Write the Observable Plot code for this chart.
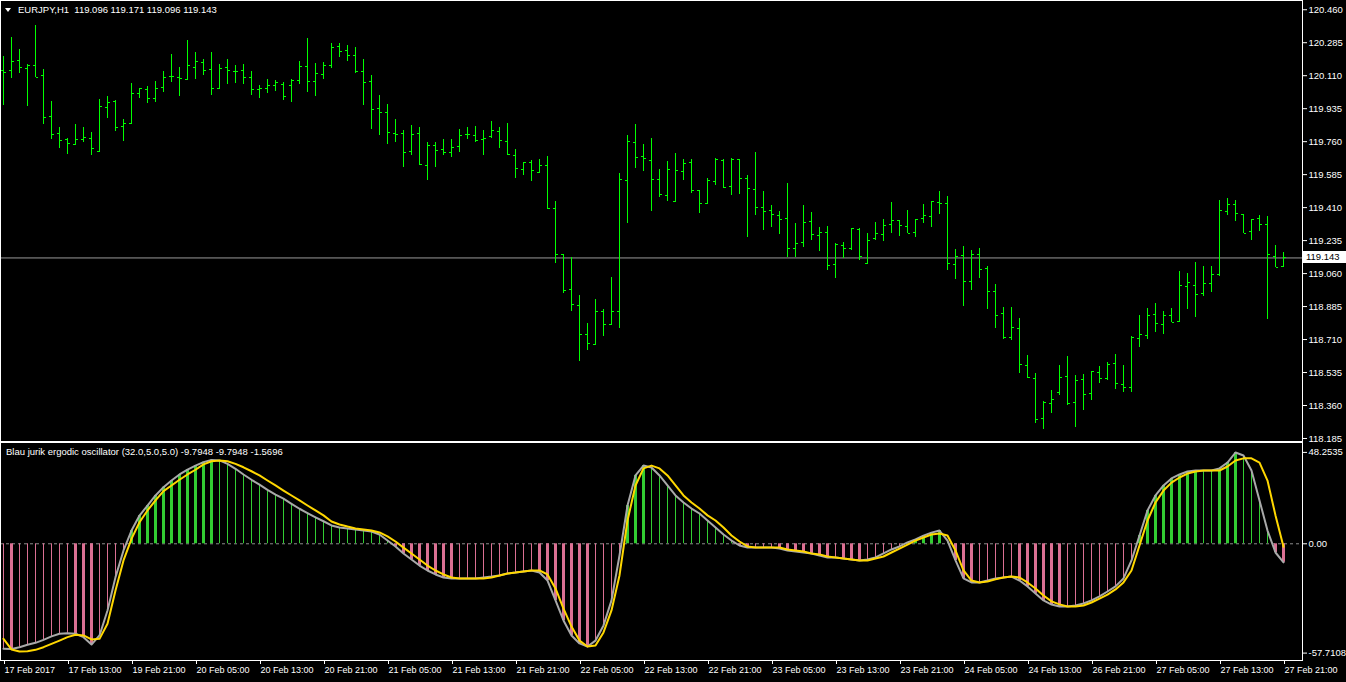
<!DOCTYPE html>
<html><head><meta charset="utf-8">
<script src="https://cdn.jsdelivr.net/npm/d3@7"></script>
<script src="https://cdn.jsdelivr.net/npm/@observablehq/plot@0.6"></script>
<style>
html,body{margin:0;padding:0;background:#000;overflow:hidden}
#wrap{position:relative;width:1346px;height:682px;background:#000;font-family:"Liberation Sans",Arial,sans-serif;overflow:hidden}
#price{position:absolute;left:0;top:0;z-index:2}
#osc{position:absolute;left:0;top:442px;z-index:1}
#wrap svg{display:block;overflow:visible}
.lbl{position:absolute;color:#fff;font-size:9.5px;white-space:pre;line-height:11px;z-index:3}
</style></head><body><div id="wrap"><div id="price"></div><div id="osc"></div></div>
<script>
const symbolTitle = "EURJPY,H1  119.096 119.171 119.096 119.143";
const oscTitle = "Blau jurik ergodic oscillator (32.0,5.0,5.0) -9.7948 -9.7948 -1.5696";
const priceTicks = [120.460,120.285,120.110,119.935,119.760,119.585,119.410,119.235,119.060,118.885,118.710,118.535,118.360,118.185];
const lastPrice = 119.143;
const oscTickValues = [48.2535, 0, -57.7108];
const oscTickLabels = ["48.2535", "0.00", "-57.7108"];
const timeLabels = ["17 Feb 2017","17 Feb 13:00","19 Feb 21:00","20 Feb 05:00","20 Feb 13:00","20 Feb 21:00","21 Feb 05:00","21 Feb 13:00","21 Feb 21:00","22 Feb 05:00","22 Feb 13:00","22 Feb 21:00","23 Feb 05:00","23 Feb 13:00","23 Feb 21:00","24 Feb 05:00","24 Feb 13:00","26 Feb 21:00","27 Feb 05:00","27 Feb 13:00","27 Feb 21:00"];
const timeLabelBars = [0,8,16,24,32,40,48,56,64,72,80,88,96,104,112,120,128,136,144,152,160];

const open = [
120.138,120.138,120.191,120.147,120.164,120.111,119.894,119.802,119.772,119.746,
119.772,119.777,119.707,119.942,119.974,119.841,119.855,120.016,120.037,119.988,
120.046,120.104,120.099,120.088,120.152,120.180,120.143,120.041,120.152,120.133,
120.138,120.101,120.037,120.042,120.057,120.064,120.058,120.085,120.159,120.080,
120.117,120.164,120.265,120.244,120.217,120.133,120.080,119.936,119.915,119.802,
119.802,119.708,119.802,119.634,119.740,119.719,119.701,119.735,119.797,119.793,
119.772,119.786,119.815,119.761,119.687,119.613,119.650,119.599,119.634,119.404,
119.161,118.977,118.890,118.738,118.685,118.860,118.791,118.860,119.555,119.756,
119.682,119.659,119.558,119.473,119.441,119.601,119.648,119.500,119.431,119.548,
119.659,119.521,119.664,119.564,119.505,119.410,119.394,119.367,119.351,119.192,
119.224,119.336,119.261,119.277,119.108,119.208,119.192,119.293,119.113,119.245,
119.267,119.320,119.341,119.309,119.277,119.351,119.362,119.436,119.431,119.108,
119.155,119.017,119.161,119.086,118.964,118.848,118.720,118.768,118.572,118.503,
118.293,118.371,118.429,118.514,118.376,118.498,118.424,118.535,118.503,118.583,
118.471,118.455,118.715,118.731,118.842,118.789,118.837,118.805,118.991,118.996,
118.954,119.007,119.054,119.389,119.426,119.373,119.282,119.351,119.320,119.150,
119.096];
const high = [
120.214,120.315,120.249,120.170,120.376,120.143,119.975,119.837,119.779,119.852,
119.837,119.811,119.984,120.000,119.979,119.878,120.071,120.044,120.053,120.080,
120.133,120.225,120.154,120.297,120.235,120.196,120.233,120.171,120.196,120.164,
120.171,120.134,120.058,120.092,120.085,120.076,120.092,120.187,120.309,120.177,
120.182,120.283,120.283,120.270,120.262,120.196,120.111,120.005,119.958,119.878,
119.820,119.846,119.836,119.756,119.756,119.772,119.772,119.825,119.836,119.841,
119.820,119.868,119.836,119.857,119.719,119.650,119.661,119.666,119.682,119.443,
119.161,119.145,118.945,118.796,118.924,118.871,119.040,119.592,119.793,119.852,
119.746,119.777,119.613,119.655,119.698,119.666,119.666,119.500,119.565,119.671,
119.666,119.671,119.664,119.581,119.703,119.496,119.422,119.390,119.539,119.327,
119.422,119.385,119.305,119.311,119.221,119.226,119.300,119.300,119.274,119.332,
119.348,119.438,119.343,119.396,119.348,119.427,119.443,119.496,119.470,119.189,
119.205,119.184,119.194,119.099,119.003,118.881,118.881,118.823,118.627,118.531,
118.383,118.441,118.574,118.622,118.521,118.526,118.542,118.568,118.590,118.632,
118.574,118.728,118.839,118.876,118.903,118.860,118.876,119.072,119.062,119.120,
119.099,119.099,119.449,119.459,119.449,119.374,119.348,119.369,119.364,119.210,
119.171];
const low = [
119.952,120.097,120.124,119.949,120.099,119.853,119.770,119.726,119.694,119.742,
119.758,119.684,119.705,119.885,119.816,119.763,119.855,119.991,119.961,119.970,
120.023,120.076,120.002,120.088,120.092,120.113,120.007,120.041,120.065,120.071,
120.065,120.007,119.991,120.014,120.028,119.981,119.970,120.062,120.020,119.997,
120.092,120.150,120.209,120.187,120.120,119.954,119.827,119.795,119.747,119.758,
119.625,119.689,119.631,119.556,119.625,119.689,119.678,119.705,119.769,119.753,
119.684,119.779,119.726,119.689,119.562,119.583,119.551,119.594,119.399,119.111,
118.952,118.857,118.591,118.650,118.676,118.724,118.782,118.766,119.328,119.620,
119.604,119.387,119.466,119.440,119.440,119.556,119.487,119.381,119.424,119.530,
119.509,119.472,119.482,119.254,119.366,119.291,119.302,119.265,119.145,119.145,
119.196,119.238,119.175,119.079,119.032,119.138,119.180,119.127,119.106,119.233,
119.228,119.275,119.259,119.272,119.254,119.328,119.307,119.371,119.079,119.026,
118.883,118.968,119.032,118.872,118.766,118.708,118.703,118.528,118.501,118.263,
118.231,118.316,118.411,118.358,118.242,118.332,118.385,118.475,118.491,118.443,
118.427,118.427,118.666,118.708,118.745,118.735,118.798,118.805,118.867,118.825,
118.941,118.957,119.047,119.366,119.334,119.272,119.238,119.281,118.819,119.092,
119.096];
const close = [
120.129,120.186,120.152,120.164,120.103,119.887,119.799,119.767,119.749,119.772,
119.783,119.724,119.947,119.968,119.834,119.857,120.016,120.041,119.988,120.042,
120.101,120.104,120.094,120.164,120.186,120.136,120.041,120.149,120.138,120.133,
120.101,120.037,120.042,120.057,120.074,119.998,120.085,120.157,120.080,120.122,
120.166,120.260,120.239,120.217,120.133,120.074,119.931,119.915,119.807,119.799,
119.701,119.799,119.640,119.740,119.714,119.701,119.730,119.793,119.797,119.767,
119.777,119.820,119.767,119.691,119.618,119.650,119.608,119.634,119.404,119.161,
118.970,118.895,118.738,118.690,118.860,118.791,118.860,119.558,119.761,119.677,
119.671,119.558,119.479,119.611,119.606,119.643,119.500,119.431,119.553,119.666,
119.516,119.664,119.564,119.510,119.410,119.389,119.373,119.346,119.192,119.219,
119.330,119.267,119.277,119.102,119.213,119.192,119.298,119.150,119.235,119.272,
119.314,119.341,119.314,119.272,119.346,119.367,119.441,119.431,119.113,119.150,
119.017,119.161,119.081,118.964,118.837,118.720,118.774,118.577,118.508,118.287,
118.376,118.392,118.508,118.371,118.492,118.418,118.540,118.503,118.577,118.477,
118.455,118.720,118.736,118.837,118.795,118.837,118.800,118.996,119.012,118.948,
119.007,119.054,119.394,119.427,119.378,119.272,119.346,119.320,119.161,119.092,
119.143];
const ergodic = [
-55.4,-55.5,-54.6,-53.3,-52.3,-50.7,-48.9,-47.5,-47.2,-47.5,
-49.3,-53.2,-48.4,-35.2,-17.6,-3.5,7.0,14.9,20.2,25.5,
29.9,33.4,36.6,39.2,41.3,43.1,44.3,44.0,42.2,39.6,
36.6,33.8,31.2,28.5,26.0,23.8,21.1,18.5,16.2,14.0,
11.9,9.7,8.6,8.1,7.6,7.0,6.5,4.9,1.7,-1.4,
-5.1,-8.3,-11.5,-14.1,-16.2,-17.8,-18.3,-18.3,-18.3,-18.3,
-17.8,-17.3,-16.7,-15.7,-15.2,-14.6,-14.1,-15.2,-19.4,-29.9,
-40.5,-48.4,-52.6,-54.2,-51.1,-43.1,-29.9,-6.2,20.2,36.1,
41.3,40.3,36.1,30.8,25.5,21.8,18.6,16.0,12.3,8.6,
4.9,1.7,-0.9,-2.0,-2.0,-2.0,-2.0,-2.5,-3.5,-4.1,
-4.6,-5.1,-6.2,-7.2,-7.2,-7.8,-8.3,-8.8,-8.3,-7.2,
-5.1,-3.0,-1.4,0.7,2.3,4.3,5.9,7.0,1.7,-8.8,
-18.3,-20.4,-20.4,-19.4,-18.3,-17.8,-17.3,-19.4,-22.5,-26.2,
-29.9,-32.1,-33.1,-33.1,-32.6,-31.5,-29.9,-27.8,-25.2,-22.5,
-18.3,-8.8,4.4,17.6,25.5,30.8,34.5,36.6,38.2,38.7,
38.7,38.7,39.8,42.9,48.2,46.6,38.7,22.9,7.0,-4.6,
-9.7948];
const signal = [
-50.2,-55.8,-56.9,-56.7,-56.0,-54.6,-52.8,-51.1,-49.3,-48.0,
-48.4,-50.5,-50.2,-42.2,-24.7,-8.8,2.6,11.4,17.6,22.9,
27.8,30.8,33.8,36.6,39.1,41.9,43.6,44.0,43.6,42.2,
40.4,38.3,36.1,33.4,30.8,28.1,25.5,22.9,20.2,17.6,
15.0,11.8,10.2,9.1,8.1,7.6,7.0,6.0,3.9,1.2,
-2.0,-5.1,-8.3,-11.5,-14.1,-16.2,-17.8,-18.3,-18.3,-18.3,
-18.3,-17.8,-16.7,-15.7,-15.2,-14.6,-14.1,-14.1,-16.2,-23.6,
-34.2,-43.7,-51.1,-54.2,-53.7,-46.8,-35.2,-16.7,12.3,30.8,
39.8,41.3,39.8,36.1,30.8,25.5,21.8,18.6,15.0,12.3,
8.6,4.4,1.2,-1.4,-2.0,-2.0,-2.0,-2.0,-3.0,-3.5,
-4.1,-5.1,-5.6,-6.7,-7.2,-7.8,-8.3,-8.8,-8.8,-7.8,
-6.7,-4.6,-2.5,-0.4,1.7,3.3,4.9,5.4,4.4,-3.5,
-14.1,-19.4,-20.4,-19.9,-18.8,-17.8,-17.3,-17.8,-20.4,-23.6,
-27.3,-30.4,-32.0,-33.1,-33.1,-32.6,-31.0,-28.9,-26.8,-24.1,
-20.4,-14.1,-0.9,12.3,21.8,28.1,32.3,35.0,37.1,38.2,
38.7,38.7,38.7,40.8,44.0,45.1,45.1,42.9,33.4,15.0,
-1.5696];

const FONT = "'Liberation Sans', Arial, sans-serif";
const bars = open.map((o, i) => ({i, open: o, high: high[i], low: low[i], close: close[i]}));
const osc = ergodic.map((v, i) => {
  const prev = i > 0 ? ergodic[i - 1] : v;
  const thick = (v > 0 && v > prev) || (v < 0 && v < prev);
  return {i, erg: v, sig: signal[i], thick, pos: v >= 0};
});
const xDomain = [-0.375, 162.375];
const GREEN = "#00ff00";

const priceChart = Plot.plot({
  width: 1346, height: 442, marginTop: 0, marginBottom: 1, marginLeft: 0, marginRight: 44,
  style: {background: "transparent", color: "#fff", fontFamily: FONT, fontSize: "9.5px", overflow: "visible"},
  x: {domain: xDomain, axis: null, label: null},
  y: {domain: [118.169, 120.509], axis: null, label: null},
  marks: [
    Plot.ruleY([lastPrice], {stroke: "#9a9a9a"}),
    Plot.ruleX(bars, {x: "i", y1: "low", y2: "high", stroke: GREEN, shapeRendering: "crispEdges"}),
    Plot.link(bars, {x1: d => d.i - 0.32, x2: "i", y1: "open", y2: "open", stroke: GREEN, shapeRendering: "crispEdges"}),
    Plot.link(bars, {x1: "i", x2: d => d.i + 0.32, y1: "close", y2: "close", stroke: GREEN, shapeRendering: "crispEdges"}),
    Plot.axisY(priceTicks, {anchor: "right", label: null, tickSize: 4, tickPadding: 2, tickFormat: d => d.toFixed(3)}),
    Plot.frame({stroke: "#fff"})
  ]
});
document.getElementById("price").appendChild(priceChart);

const labelMap = new Map(timeLabelBars.map((b, k) => [b, timeLabels[k]]));
const oscMap = new Map(oscTickValues.map((v, k) => [v, oscTickLabels[k]]));
const oscChart = Plot.plot({
  width: 1346, height: 240, marginTop: 0, marginBottom: 22, marginLeft: 0, marginRight: 44,
  style: {background: "transparent", color: "#fff", fontFamily: FONT, fontSize: "9.5px", overflow: "visible"},
  x: {domain: xDomain, axis: null, label: null},
  y: {domain: [-61.62, 53.48], axis: null, label: null},
  marks: [
    Plot.ruleY([0], {stroke: "#8c8c8c", strokeDasharray: "3,3"}),
    Plot.ruleX(osc.filter(d => d.pos && d.thick), {x: "i", y1: 0, y2: "erg", stroke: "#32cd32", strokeWidth: 3}),
    Plot.ruleX(osc.filter(d => d.pos && !d.thick), {x: "i", y1: 0, y2: "erg", stroke: "#32cd32", strokeWidth: 1}),
    Plot.ruleX(osc.filter(d => !d.pos && d.thick), {x: "i", y1: 0, y2: "erg", stroke: "#db7093", strokeWidth: 3}),
    Plot.ruleX(osc.filter(d => !d.pos && !d.thick), {x: "i", y1: 0, y2: "erg", stroke: "#db7093", strokeWidth: 1}),
    Plot.line(osc, {x: "i", y: "erg", stroke: "#a9a9a9", strokeWidth: 2}),
    Plot.line(osc, {x: "i", y: "sig", stroke: "#ffd700", strokeWidth: 2}),
    Plot.axisY(oscTickValues, {anchor: "right", label: null, tickSize: 4, tickPadding: 2, tickFormat: d => oscMap.get(d)}),
    Plot.axisX(timeLabelBars, {anchor: "bottom", label: null, tickSize: 4, tickPadding: 2, textAnchor: "start", dx: 1, fontSize: 9, tickFormat: d => labelMap.get(d)}),
    Plot.frame({stroke: "#fff"})
  ]
});
document.getElementById("osc").appendChild(oscChart);

const wrap = document.getElementById("wrap");
function addLabel(text, left, top, extra) {
  const d = document.createElement("div");
  d.className = "lbl";
  d.textContent = text;
  d.style.left = left + "px";
  d.style.top = top + "px";
  if (extra) Object.assign(d.style, extra);
  wrap.appendChild(d);
  return d;
}
addLabel(symbolTitle, 18, 4);
const tri = document.createElement("div");
Object.assign(tri.style, {position: "absolute", left: "5px", top: "8px", width: 0, height: 0, zIndex: 3,
  borderLeft: "3.5px solid transparent", borderRight: "3.5px solid transparent", borderTop: "4px solid #fff"});
wrap.appendChild(tri);
addLabel(oscTitle, 6, 446);
const yPrice = priceChart.scale("y").apply(lastPrice);
addLabel(lastPrice.toFixed(3), 1303, Math.round(yPrice) - 6,
  {background: "#fff", color: "#000", width: "40px", paddingLeft: "3px", height: "12px", lineHeight: "12px"});
</script></body></html>
